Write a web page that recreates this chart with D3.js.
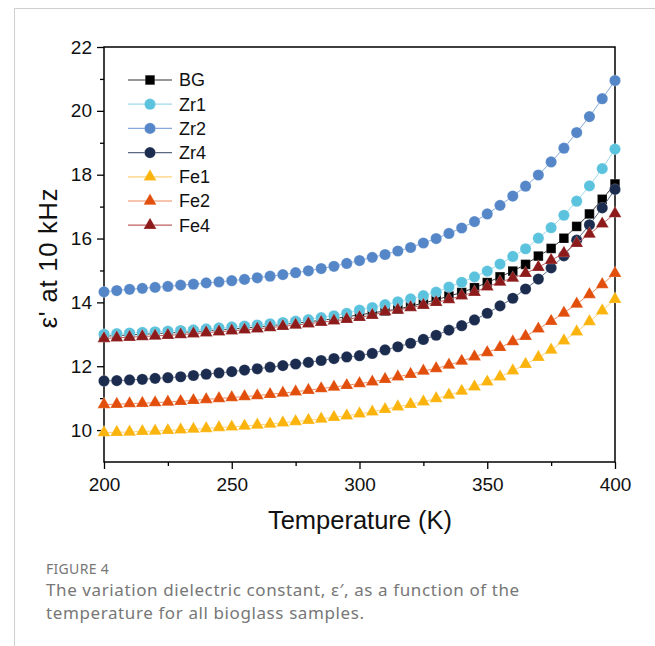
<!DOCTYPE html>
<html>
<head>
<meta charset="UTF-8">
<script src="https://d3js.org/d3.v7.min.js"></script>
<style>
  body { margin: 0; background: #fff; }
  svg { display: block; }
</style>
</head>
<body>
<div id="chart"></div>
<script>
// temperatures, every 5 K
var temps = d3.range(200, 401, 5);

var bg  = [12.94,12.96,12.98,13.00,13.02,13.04,13.06,13.08,13.11,13.14,13.17,13.20,13.23,13.27,13.31,13.35,13.39,13.44,13.49,13.55,13.61,
           13.67,13.73,13.79,13.88,13.98,14.08,14.20,14.31,14.46,14.62,14.80,14.98,15.19,15.45,15.69,16.01,16.38,16.77,17.23,17.71];
var zr1 = [13.00,13.02,13.04,13.06,13.08,13.10,13.12,13.14,13.17,13.20,13.23,13.26,13.29,13.33,13.37,13.41,13.46,13.52,13.58,13.66,13.76,
           13.84,13.93,14.02,14.11,14.21,14.32,14.48,14.63,14.80,14.98,15.20,15.44,15.68,16.01,16.34,16.73,17.17,17.65,18.19,18.80];
var zr2 = [14.33,14.37,14.41,14.44,14.47,14.50,14.54,14.57,14.61,14.64,14.68,14.72,14.77,14.82,14.87,14.93,14.99,15.06,15.13,15.22,15.31,
           15.41,15.50,15.61,15.72,15.86,16.00,16.16,16.33,16.53,16.77,17.04,17.33,17.64,17.99,18.40,18.83,19.32,19.82,20.38,20.95];
var zr4 = [11.54,11.55,11.57,11.59,11.62,11.64,11.67,11.71,11.75,11.79,11.83,11.88,11.92,11.97,12.02,12.07,12.12,12.18,12.24,12.29,12.33,
           12.40,12.51,12.61,12.72,12.84,12.97,13.13,13.27,13.45,13.66,13.89,14.13,14.42,14.73,15.08,15.46,15.95,16.43,16.96,17.54];
var fe1 = [9.92,9.93,9.94,9.96,9.97,9.99,10.01,10.03,10.05,10.08,10.10,10.13,10.16,10.19,10.23,10.27,10.31,10.35,10.40,10.45,10.51,
           10.57,10.65,10.73,10.81,10.89,10.99,11.10,11.22,11.36,11.51,11.67,11.86,12.06,12.28,12.51,12.80,13.08,13.40,13.74,14.10];
var fe2 = [10.80,10.81,10.83,10.84,10.86,10.88,10.90,10.93,10.96,10.99,11.02,11.05,11.08,11.12,11.16,11.20,11.25,11.30,11.35,11.40,11.46,
           11.51,11.59,11.67,11.75,11.85,11.93,12.04,12.16,12.30,12.43,12.59,12.77,12.94,13.17,13.41,13.67,13.95,14.25,14.56,14.91];
var fe4 = [12.87,12.89,12.91,12.93,12.95,12.97,12.99,13.02,13.05,13.08,13.11,13.14,13.17,13.21,13.25,13.29,13.33,13.38,13.42,13.47,13.53,
           13.60,13.71,13.76,13.84,13.91,14.00,14.09,14.21,14.32,14.49,14.64,14.76,14.91,15.10,15.32,15.54,15.85,16.14,16.46,16.78];

var seriesNames = ["BG", "Zr1", "Zr2", "Zr4", "Fe1", "Fe2", "Fe4"];
var seriesValues = [bg, zr1, zr2, zr4, fe1, fe2, fe4];
var markerColors = ["#000000", "#5bc3dd", "#5587c8", "#1b2c4e", "#fbb40d", "#e24e0b", "#8d1b1b"];
var lineColors   = ["#333333", "#9fd9ea", "#86a9dc", "#5b6882", "#fcd27a", "#ef8a5e", "#bf5f5f"];
var shapes       = ["square", "circle", "circle", "circle", "triangle", "triangle", "triangle"];

var xTicks = [200, 250, 300, 350, 400];
var yTicks = [10, 12, 14, 16, 18, 20, 22];

var W = 655, H = 646;
var margin = { top: 47, right: 40, bottom: 184, left: 104 };
var width = 615 - margin.left, height = 462 - margin.top;
var axisFont = "'Liberation Sans', Arial, sans-serif";

var svg = d3.select("#chart").append("svg")
  .attr("width", W)
  .attr("height", H);

// page frame
svg.append("path")
  .attr("d", "M14.5," + H + "V8.5H" + W)
  .attr("fill", "none")
  .attr("stroke", "#cfcfcf")
  .attr("stroke-width", 1);

var g = svg.append("g")
  .attr("transform", "translate(" + margin.left + "," + margin.top + ")");

var x = d3.scaleLinear().domain([200, 400]).range([0, width]);
var y = d3.scaleLinear().domain([9, 22]).range([height, 0]);

// minor ticks
g.append("g")
  .attr("transform", "translate(0," + height + ")")
  .call(d3.axisBottom(x).tickValues([225, 275, 325, 375]).tickSize(4).tickFormat(""))
  .call(function (s) { s.select(".domain").remove(); })
  .selectAll("line").attr("stroke-width", 1.3);
g.append("g")
  .call(d3.axisLeft(y).tickValues([11, 13, 15, 17, 19, 21]).tickSize(4).tickFormat(""))
  .call(function (s) { s.select(".domain").remove(); })
  .selectAll("line").attr("stroke-width", 1.3);

// major axes
var xAxis = g.append("g")
  .attr("transform", "translate(0," + height + ")")
  .call(d3.axisBottom(x).tickValues(xTicks).tickSize(7).tickPadding(9));
xAxis.select(".domain").remove();
xAxis.selectAll("line").attr("stroke-width", 1.3);
xAxis.selectAll("text")
  .style("font-family", axisFont)
  .style("font-size", "19px")
  .attr("fill", "#111");

var yAxis = g.append("g")
  .call(d3.axisLeft(y).tickValues(yTicks).tickSize(7).tickPadding(5));
yAxis.select(".domain").remove();
yAxis.selectAll("line").attr("stroke-width", 1.3);
yAxis.selectAll("text")
  .style("font-family", axisFont)
  .style("font-size", "19px")
  .attr("fill", "#111");

// frame
g.append("rect")
  .attr("width", width)
  .attr("height", height)
  .attr("fill", "none")
  .attr("stroke", "#000")
  .attr("stroke-width", 1.5);

// marker helper
function marker(sel, shape, color) {
  if (shape === "circle") {
    sel.append("circle").attr("r", 5.6);
  } else if (shape === "square") {
    sel.append("path").attr("d", d3.symbol(d3.symbolSquare, 92)());
  } else {
    sel.append("path").attr("d", d3.symbol(d3.symbolTriangle, 72)());
  }
  sel.selectAll("circle, path")
    .attr("fill", color)
    .attr("stroke", "rgba(255,255,255,0.35)")
    .attr("stroke-width", 0.6);
}

var line = d3.line()
  .x(function (d, i) { return x(temps[i]); })
  .y(function (d) { return y(d); });

var plot = g.append("g");
seriesValues.forEach(function (vals, k) {
  var sg = plot.append("g");
  sg.append("path")
    .datum(vals)
    .attr("d", line)
    .attr("fill", "none")
    .attr("stroke", lineColors[k])
    .attr("stroke-width", 1);
  sg.selectAll("g.pt")
    .data(vals)
    .enter().append("g")
    .attr("class", "pt")
    .attr("transform", function (d, i) { return "translate(" + x(temps[i]) + "," + y(d) + ")"; })
    .each(function () { marker(d3.select(this), shapes[k], markerColors[k]); });
});

// legend
var legend = g.append("g").attr("transform", "translate(24,33)");
seriesNames.forEach(function (name, k) {
  var row = legend.append("g").attr("transform", "translate(0," + (k * 24.2) + ")");
  row.append("line")
    .attr("x1", 0).attr("x2", 44)
    .attr("stroke", lineColors[k])
    .attr("stroke-width", 1.2);
  var m = row.append("g").attr("transform", "translate(22,0)");
  marker(m, shapes[k], markerColors[k]);
  row.append("text")
    .attr("x", 51)
    .attr("dy", "0.36em")
    .style("font-family", axisFont)
    .style("font-size", "18px")
    .attr("fill", "#111")
    .text(name);
});

// axis titles
svg.append("text")
  .attr("x", 360)
  .attr("y", 529)
  .attr("text-anchor", "middle")
  .style("font-family", axisFont)
  .style("font-size", "25.5px")
  .attr("fill", "#111")
  .text("Temperature (K)");

svg.append("text")
  .attr("transform", "translate(57,258) rotate(-90)")
  .attr("text-anchor", "middle")
  .style("font-family", axisFont)
  .style("font-size", "25.5px")
  .style("letter-spacing", "0.8px")
  .attr("fill", "#111")
  .text("ε' at 10 kHz");

// caption
svg.append("text")
  .attr("x", 46).attr("y", 574)
  .style("font-family", "'Noto Sans', sans-serif")
  .style("font-size", "14px")
  .style("letter-spacing", "0.3px")
  .attr("fill", "#777")
  .text("FIGURE 4");
svg.append("text")
  .attr("x", 46).attr("y", 596)
  .style("font-family", "'Noto Sans', sans-serif")
  .style("font-size", "17px")
  .style("letter-spacing", "0.6px")
  .attr("fill", "#777")
  .text("The variation dielectric constant, ε′, as a function of the");
svg.append("text")
  .attr("x", 46).attr("y", 619)
  .style("font-family", "'Noto Sans', sans-serif")
  .style("font-size", "17px")
  .style("letter-spacing", "0.6px")
  .attr("fill", "#777")
  .text("temperature for all bioglass samples.");
</script>
</body>
</html>
